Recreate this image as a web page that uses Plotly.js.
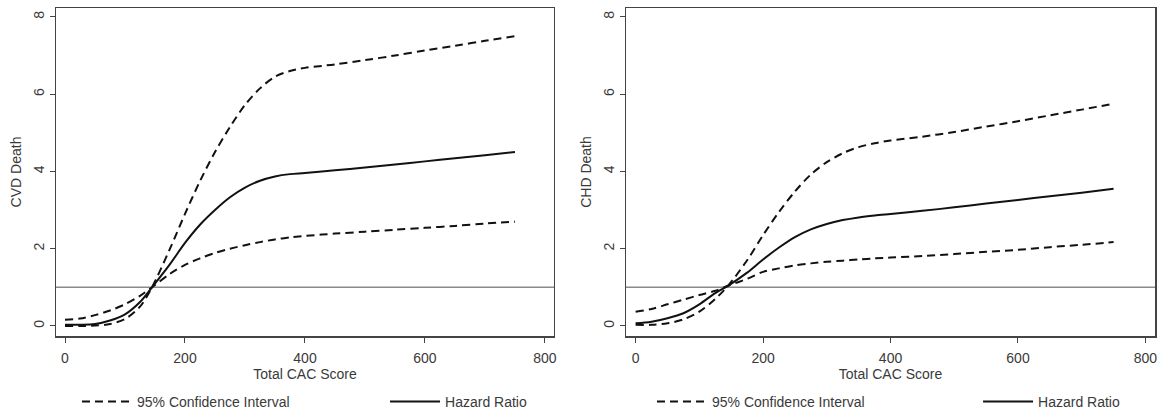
<!DOCTYPE html>
<html>
<head>
<meta charset="utf-8">
<script src="https://cdn.plot.ly/plotly-3.0.1.min.js"></script>
<style>
html,body{margin:0;padding:0;background:#fff;}
#chart{width:1170px;height:418px;}
</style>
</head>
<body>
<div id="chart"></div>
<script>
// CAC score grid
var cacScore = [0, 25, 50, 75, 100, 125, 145, 175, 200, 225, 250, 275, 300, 325, 350, 375, 400, 450, 500, 550, 600, 650, 700, 750];

// CVD death (left panel): hazard ratio and the two 95% CI bound curves
// (ciA starts above the HR and ends below it; ciB starts below and ends above)
var cvdHR  = [0.03, 0.03, 0.05, 0.14, 0.30, 0.62, 1.00, 1.60, 2.15, 2.62, 3.00, 3.33, 3.58, 3.76, 3.87, 3.93, 3.96, 4.03, 4.10, 4.18, 4.26, 4.34, 4.42, 4.50];
var cvdCIA = [0.16, 0.19, 0.28, 0.40, 0.56, 0.78, 1.00, 1.35, 1.58, 1.75, 1.89, 2.00, 2.09, 2.17, 2.24, 2.29, 2.33, 2.39, 2.44, 2.49, 2.54, 2.59, 2.65, 2.70];
var cvdCIB = [0.00, 0.00, 0.01, 0.05, 0.18, 0.50, 1.00, 2.00, 2.90, 3.75, 4.50, 5.15, 5.72, 6.15, 6.45, 6.60, 6.68, 6.77, 6.88, 7.00, 7.13, 7.25, 7.38, 7.50];

// CHD death (right panel)
var chdHR  = [0.07, 0.11, 0.20, 0.33, 0.56, 0.85, 1.04, 1.38, 1.72, 2.03, 2.30, 2.50, 2.64, 2.74, 2.81, 2.86, 2.90, 2.98, 3.07, 3.17, 3.26, 3.36, 3.45, 3.55];
var chdCIA = [0.37, 0.44, 0.56, 0.68, 0.80, 0.91, 1.04, 1.22, 1.40, 1.49, 1.57, 1.62, 1.66, 1.69, 1.72, 1.75, 1.77, 1.81, 1.86, 1.92, 1.97, 2.04, 2.10, 2.17];
var chdCIB = [0.03, 0.03, 0.07, 0.17, 0.37, 0.70, 1.04, 1.70, 2.35, 2.95, 3.48, 3.92, 4.24, 4.47, 4.63, 4.73, 4.80, 4.90, 5.02, 5.16, 5.30, 5.45, 5.60, 5.75];

var refValue = 1;
var xTicks = [0, 200, 400, 600, 800];
var yTicks = [0, 2, 4, 6, 8];
var ciName = '95% Confidence Interval';
var hrName = 'Hazard Ratio';

var lineColor = '#111111';
var dashStyle = '8px,5px';

function mk(x, y, name, dashed, xa, ya, leg, show) {
  return {
    x: x, y: y, name: name, type: 'scatter', mode: 'lines',
    xaxis: xa, yaxis: ya, legend: leg, showlegend: show,
    line: {color: lineColor, width: 2, dash: dashed ? dashStyle : 'solid', shape: 'spline', smoothing: 0.9},
    hoverinfo: 'skip'
  };
}

var traces = [
  mk(cacScore, cvdCIA, ciName, true, 'x', 'y', 'legend', true),
  mk(cacScore, cvdCIB, ciName, true, 'x', 'y', 'legend', false),
  mk(cacScore, cvdHR, hrName, false, 'x', 'y', 'legend2', true),
  mk(cacScore, chdCIA, ciName, true, 'x2', 'y2', 'legend3', true),
  mk(cacScore, chdCIB, ciName, true, 'x2', 'y2', 'legend3', false),
  mk(cacScore, chdHR, hrName, false, 'x2', 'y2', 'legend4', true)
];

var fontFam = '"Liberation Sans", Arial, sans-serif';
var textCol = '#3a3a3a';
var frameCol = '#444444';

function xAxis(domain, anchor) {
  return {
    domain: domain, anchor: anchor, range: [-15, 815],
    tickvals: xTicks, ticks: 'outside', ticklen: 5, tickwidth: 1, tickcolor: frameCol,
    ticklabelstandoff: 4,
    showline: true, mirror: true, linecolor: frameCol, linewidth: 1.5,
    showgrid: false, zeroline: false,
    tickfont: {family: fontFam, size: 14, color: textCol},
    title: {text: 'Total CAC Score', font: {family: fontFam, size: 14, color: textCol}, standoff: 0}
  };
}
function yAxis(anchor, title) {
  return {
    anchor: anchor, domain: [0, 1], range: [-0.26, 8.23],
    tickvals: yTicks, tickangle: -90, ticks: 'outside', ticklen: 5, tickwidth: 1, tickcolor: frameCol,
    showline: true, mirror: true, linecolor: frameCol, linewidth: 1.5,
    showgrid: false, zeroline: false,
    tickfont: {family: fontFam, size: 14, color: textCol},
    title: {text: title, font: {family: fontFam, size: 14, color: textCol}, standoff: 6}
  };
}

var legFont = {family: fontFam, size: 14, color: textCol};
function leg(x) {
  return {orientation: 'h', x: x, y: 0.0383, xref: 'paper', yref: 'container',
          xanchor: 'left', yanchor: 'middle',
          itemwidth: 50, font: legFont, bgcolor: 'rgba(0,0,0,0)', borderwidth: 0};
}
var layout = {
  width: 1170, height: 418,
  margin: {l: 56, r: 15, t: 8, b: 82},
  paper_bgcolor: '#ffffff', plot_bgcolor: '#ffffff',
  font: {family: fontFam, color: textCol},
  xaxis: xAxis([0, 0.4531], 'y'),
  yaxis: yAxis('x', 'CVD Death'),
  xaxis2: xAxis([0.5187, 1], 'y2'),
  yaxis2: yAxis('x2', 'CHD Death'),
  legend: leg(0.0191),
  legend2: leg(0.2994),
  legend3: leg(0.5423),
  legend4: leg(0.8390),
  shapes: [
    {type: 'line', xref: 'x domain', yref: 'y', x0: 0, x1: 1, y0: refValue, y1: refValue,
     line: {color: '#8a8a8a', width: 1.5}, layer: 'below'},
    {type: 'line', xref: 'x2 domain', yref: 'y2', x0: 0, x1: 1, y0: refValue, y1: refValue,
     line: {color: '#8a8a8a', width: 1.5}, layer: 'below'}
  ],
  showlegend: true
};

Plotly.newPlot('chart', traces, layout, {displayModeBar: false, staticPlot: true});
</script>
</body>
</html>
